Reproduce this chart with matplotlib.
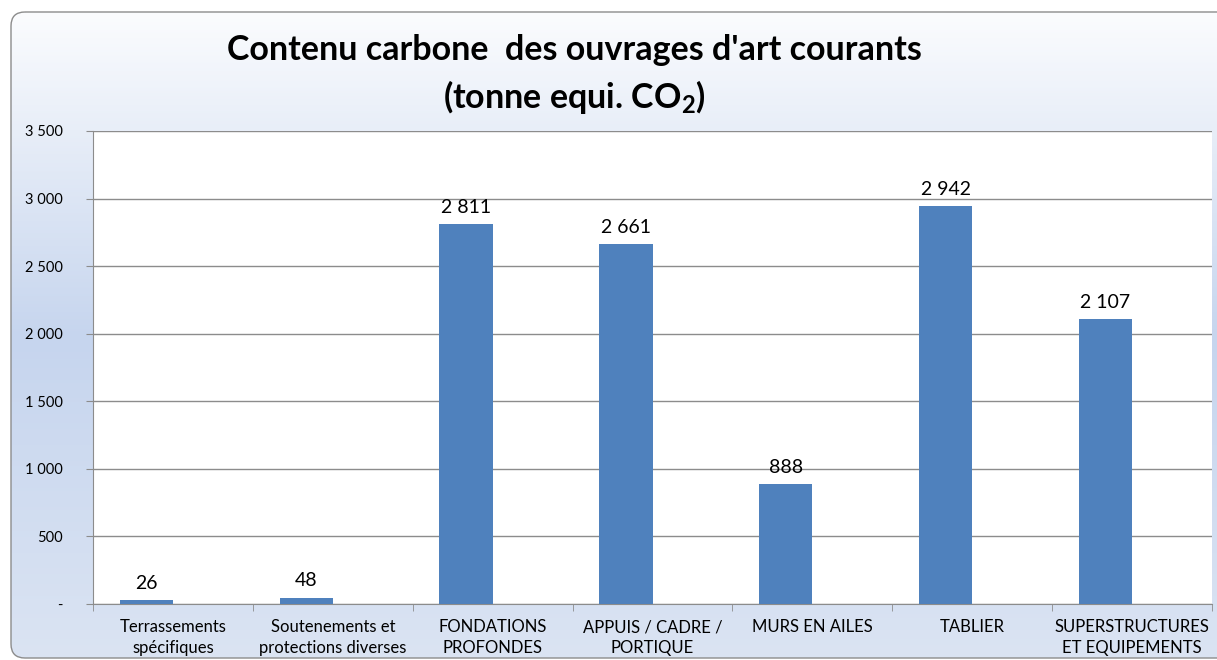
import numpy as np
import matplotlib.pyplot as plt
from matplotlib.colors import LinearSegmentedColormap
from matplotlib.patches import FancyBboxPatch

plt.rcParams.update({
    "font.family": ["Lato", "DejaVu Sans"],
    "mathtext.fontset": "custom",
    "mathtext.rm": "Lato:bold",
    "mathtext.bf": "Lato:bold",
})

# Data
categories = ["Terrassements\nspécifiques", "Soutenements et\nprotections diverses",
              "FONDATIONS\nPROFONDES", "APPUIS / CADRE /\nPORTIQUE", "MURS EN AILES",
              "TABLIER", "SUPERSTRUCTURES\nET EQUIPEMENTS"]
values = [26, 48, 2811, 2661, 888, 2942, 2107]
yticks = [0, 500, 1000, 1500, 2000, 2500, 3000, 3500]
ytick_labels = ["-", "500", "1 000", "1 500", "2 000", "2 500", "3 000", "3 500"]

W, H = 1217, 660
fig = plt.figure(figsize=(W / 100, H / 100), dpi=100)
fig.patch.set_facecolor("white")

# Gradient background inside rounded frame
bg = fig.add_axes([0, 0, 1, 1])
bg.set_xlim(0, W)
bg.set_ylim(H, 0)
bg.axis("off")
cmap = LinearSegmentedColormap.from_list(
    "bg", [(0.0, "#fbfcfe"), (0.18, "#e8eef8"), (0.5, "#c6d5ee"), (1.0, "#dbe4f3")])
grad = np.linspace(0, 1, 256).reshape(-1, 1)
img = bg.imshow(grad, cmap=cmap, extent=[11, W + 30, 662, 12], aspect="auto")
frame = FancyBboxPatch((11, 12), W + 20 - 11, 646, boxstyle="round,pad=0,rounding_size=14",
                       facecolor="none", edgecolor="#8c8c8c", linewidth=1.0)
bg.add_patch(frame)
img.set_clip_path(frame)

# Main axes
ax = fig.add_axes([93 / W, 56 / H, (1212 - 93) / W, (604 - 131) / H])
ax.set_facecolor("white")
x = np.arange(len(values))
ax.bar(x - 1 / 6, values, width=1 / 3, color="#4f81bd", zorder=3)
ax.set_xlim(-0.5, len(values) - 0.5)
ax.set_ylim(0, 3500)

ax.set_yticks(yticks)
ax.set_yticklabels(ytick_labels, fontsize=10.5)
ax.yaxis.grid(True, color="#8c8c8c", linewidth=1.0, zorder=0)
ax.tick_params(axis="y", length=5, color="#8c8c8c", pad=17)

ax.set_xticks(x)
ax.set_xticklabels(categories, fontsize=12, linespacing=1.35)
ax.set_xticks(np.arange(len(values) + 1) - 0.5, minor=True)
ax.tick_params(axis="x", which="major", length=0, pad=11)
ax.tick_params(axis="x", which="minor", length=5, color="#8c8c8c")

for s in ["top", "right"]:
    ax.spines[s].set_visible(False)
for s in ["left", "bottom"]:
    ax.spines[s].set_color("#8c8c8c")

for xi, v in zip(x, values):
    ax.annotate(f"{v:,}".replace(",", " "), (xi - 1 / 6, v), xytext=(0, 6),
                textcoords="offset points", ha="center", va="bottom", fontsize=14)

# Title
fig.text(574 / W, 1 - 50 / H, "Contenu carbone  des ouvrages d'art courants",
         ha="center", va="center", fontsize=24.5, fontweight="bold")
fig.text(574 / W, 1 - 97 / H, "(tonne equi. CO$_\\mathregular{2}$)",
         ha="center", va="center", fontsize=24.5, fontweight="bold")

fig.savefig("out.png", dpi=100)
